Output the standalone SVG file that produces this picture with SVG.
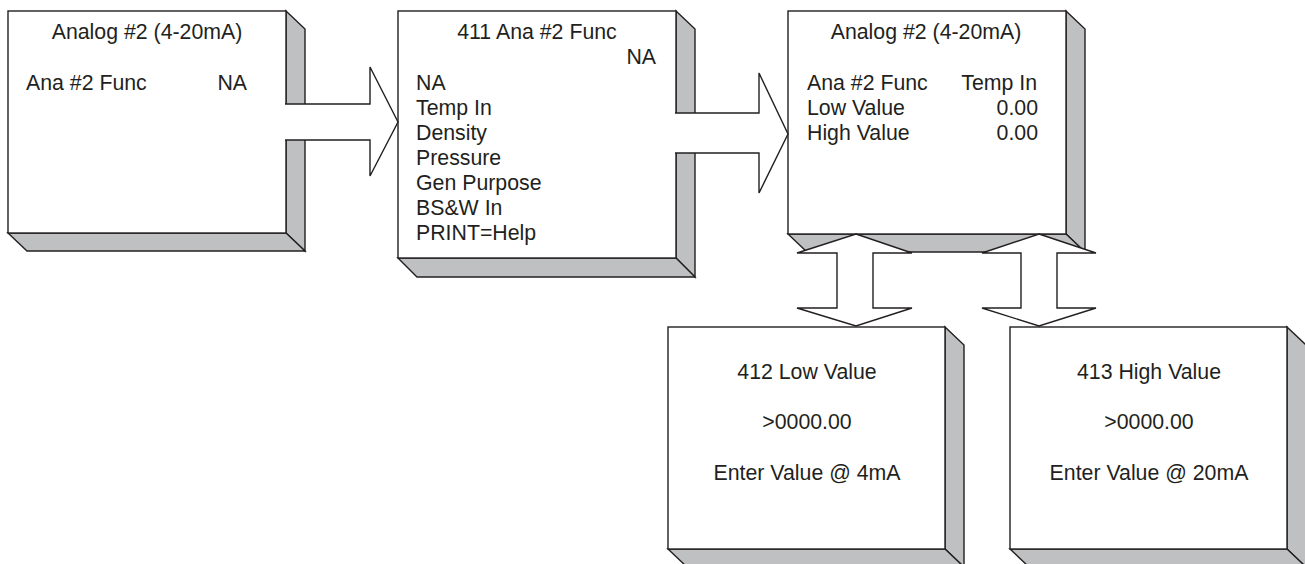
<svg xmlns="http://www.w3.org/2000/svg" width="1305" height="564" viewBox="0 0 1305 564">
<style>
.face{fill:#ffffff;stroke:#231f20;stroke-width:1.4}
.side{fill:#bfc0c2;stroke:#231f20;stroke-width:1.4;stroke-linejoin:miter}
.fill{fill:#ffffff;stroke:none}
.edge{fill:none;stroke:#231f20;stroke-width:1.4;stroke-linejoin:miter}
.dbl{fill:#ffffff;stroke:#231f20;stroke-width:1.4;stroke-linejoin:miter}
text{font-family:"Liberation Sans",Arial,sans-serif;font-size:21.3px;fill:#231f20}
.c{text-anchor:middle}
.r{text-anchor:end}
</style>
<rect width="1305" height="564" fill="#ffffff"/>
<g id="node-analog2-a">
<polygon class="side" points="286,11 305,29 305,251 286,233"/>
<polygon class="side" points="8,233 27,251 305,251 286,233"/>
<rect class="face" x="8" y="11" width="278" height="222"/>
<text class="c" x="147" y="39">Analog #2 (4-20mA)</text>
<text x="26" y="90">Ana #2 Func</text>
<text class="r" x="247" y="90">NA</text>
</g>
<g id="node-411">
<polygon class="side" points="676,11 695,29 695,277 676,258"/>
<polygon class="side" points="398,258 417,277 695,277 676,258"/>
<rect class="face" x="398" y="11" width="278" height="247"/>
<text class="c" x="537" y="39">411 Ana #2 Func</text>
<text class="r" x="656" y="64">NA</text>
<text x="416" y="90">NA</text>
<text x="416" y="115">Temp In</text>
<text x="416" y="140">Density</text>
<text x="416" y="165">Pressure</text>
<text x="416" y="190">Gen Purpose</text>
<text x="416" y="215">BS&amp;W In</text>
<text x="416" y="240">PRINT=Help</text>
</g>
<g id="node-analog2-b">
<polygon class="side" points="1066,11 1085,29 1085,252 1066,234"/>
<polygon class="side" points="788,234 807,252 1085,252 1066,234"/>
<rect class="face" x="788" y="11" width="278" height="223"/>
<text class="c" x="926" y="39">Analog #2 (4-20mA)</text>
<text x="807" y="90">Ana #2 Func</text>
<text class="r" x="1037" y="90">Temp In</text>
<text x="807" y="115">Low Value</text>
<text class="r" x="1038" y="115">0.00</text>
<text x="807" y="140">High Value</text>
<text class="r" x="1038" y="140">0.00</text>
</g>
<g id="node-412">
<polygon class="side" points="945,327 964,345 964,567 945,549"/>
<polygon class="side" points="668,549 687,567 964,567 945,549"/>
<rect class="face" x="668" y="327" width="277" height="222"/>
<text class="c" x="807" y="379">412 Low Value</text>
<text class="c" x="807" y="429">&gt;0000.00</text>
<text class="c" x="807" y="480">Enter Value @ 4mA</text>
</g>
<g id="node-413">
<polygon class="side" points="1287,327 1306,345 1306,567 1287,549"/>
<polygon class="side" points="1010,549 1029,567 1306,567 1287,549"/>
<rect class="face" x="1010" y="327" width="277" height="222"/>
<text class="c" x="1149" y="379">413 High Value</text>
<text class="c" x="1149" y="429">&gt;0000.00</text>
<text class="c" x="1149" y="480">Enter Value @ 20mA</text>
</g>
<g id="connectors">
<polygon class="fill" points="284.5,104 370,104 370,67 398,122 370,176 370,140 284.5,140"/>
<polyline class="edge" points="285,104 370,104 370,67 398,122 370,176 370,140 285,140"/>
<polygon class="fill" points="674.5,113 759,113 759,73 788,134 759,193 759,153 674.5,153"/>
<polyline class="edge" points="675,113 759,113 759,73 788,134 759,193 759,153 675,153"/>
<polygon class="dbl" points="856,234 912,253 873,253 873,308 912,308 856,326 797,308 837,308 837,253 797,253"/>
<polygon class="dbl" points="1039,234 1096,253 1057,253 1057,308 1096,308 1039,326 982,308 1021,308 1021,253 982,253"/>
</g>
</svg>
